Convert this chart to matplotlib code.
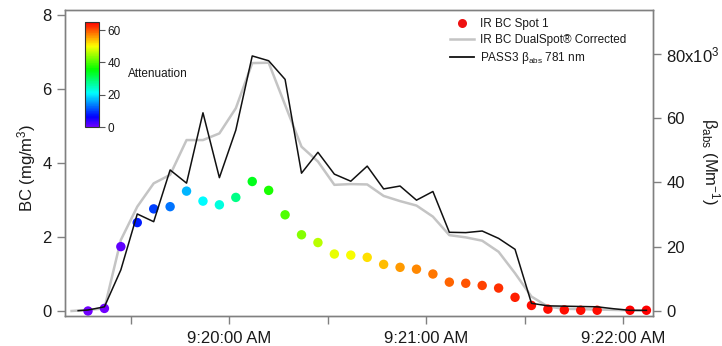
import numpy as np
import pandas as pd
import matplotlib
matplotlib.use("Agg")
import matplotlib.pyplot as plt
import matplotlib.dates as mdates
from matplotlib.colors import ListedColormap
from matplotlib.lines import Line2D
from matplotlib.ticker import FuncFormatter

plt.rcParams["font.family"] = ["Liberation Sans", "DejaVu Sans"]
plt.rcParams["mathtext.default"] = "regular"

# --- data ------------------------------------------------------------------
# 5-s samples starting 9:19:17
t_spot = pd.date_range("2020-01-01 09:19:17", periods=35, freq="5s")

spot1 = [0.00, 0.07, 1.74, 2.39, 2.76, 2.82, 3.24, 2.97, 2.87, 3.07,
         3.50, 3.26, 2.60, 2.06, 1.85, 1.54, 1.51, 1.45, 1.26, 1.18,
         1.13, 1.00, 0.78, 0.75, 0.69, 0.62, 0.37, 0.15, 0.05, 0.03,
         0.02, 0.02, np.nan, 0.02, 0.02]
attenuation = [0, 0, 1, 8, 10, 13, 17, 21, 23, 28,
               34, 37, 40, 43, 46, 49, 50, 52, 54, 56,
               57, 58, 59, 60, 61, 62, 63, 64, 64, 64,
               64, 64, np.nan, 65, 65]

t_dual = [pd.Timestamp("2020-01-01 09:19:12")] + list(t_spot)
dualspot = [0.00, 0.03, 0.07, 1.92, 2.82, 3.45, 3.68, 4.62, 4.62, 4.80,
            5.48, 6.70, 6.71, 5.57, 4.44, 4.04, 3.41, 3.43, 3.42, 3.11,
            2.97, 2.85, 2.55, 2.05, 1.99, 1.90, 1.60, 1.02, 0.39, 0.12,
            0.06, 0.05, 0.04, 0.03, 0.02, 0.01]

t_pass3 = [pd.Timestamp("2020-01-01 09:19:14")] + list(t_spot)
pass3 = [100, 300, 1300, 12800, 30200, 27800, 43900, 39800, 61700, 41500,
         56300, 79400, 77900, 72100, 42900, 49400, 42600, 40400, 45100, 38000,
         38900, 34500, 37200, 24500, 24400, 24900, 22600, 19200, 2400, 1600,
         1500, 1400, 1300, 700, 200, 200]

x_range = [pd.Timestamp("2020-01-01 09:19:10"), pd.Timestamp("2020-01-01 09:22:09")]

# --- style ------------------------------------------------------------------
frame_col = "#808080"
text_col = "#1a1a1a"
cmap = ListedColormap(plt.get_cmap("hsv")(np.linspace(0.75, 0.0, 256)))

fig = plt.figure(figsize=(7.22, 3.46), dpi=100)
ax = fig.add_axes([65 / 722, 30 / 346, 588 / 722, 306 / 346])
ax2 = ax.twinx()

ax.plot(t_dual, dualspot, color="#c4c4c4", lw=1.8, zorder=2)
sc = ax.scatter(t_spot, spot1, c=attenuation, cmap=cmap, vmin=0, vmax=65,
                s=46, edgecolors="none", zorder=3)
ax2.plot(t_pass3, pass3, color="#111111", lw=1.1)

ax.set_xlim(x_range)
ax.set_ylim(-0.135, 8.135)
ax2.set_ylim(-1560, 93700)
ax.set_yticks([0, 2, 4, 6, 8])
ax2.set_yticks([0, 20000, 40000, 60000, 80000])


def right_fmt(v, pos):
    k = int(round(v / 1000))
    return f"{k}x10$^3$" if k == 80 else f"{k}"


ax2.yaxis.set_major_formatter(FuncFormatter(right_fmt))

ax.xaxis.set_major_locator(mdates.MinuteLocator())
ax.xaxis.set_minor_locator(mdates.SecondLocator(bysecond=[30]))
ax.xaxis.set_major_formatter(FuncFormatter(
    lambda v, pos: mdates.num2date(v).strftime("%I:%M:%S %p").lstrip("0")))

for a in (ax, ax2):
    for sp in a.spines.values():
        sp.set_color(frame_col)
        sp.set_linewidth(1.0)
    a.tick_params(which="both", direction="out", length=5.5, width=1.0,
                  color=frame_col, labelsize=12, labelcolor=text_col, pad=4)
ax.tick_params(axis="x", which="both", pad=5.5)

ax.set_ylabel("BC (mg/m$^3$)", fontsize=12, color=text_col, va="center", ha="center")
ax.yaxis.set_label_coords(-0.066, 0.484)
ax2.set_ylabel("β$_{abs}$ (Mm$^{-1}$)", fontsize=12, color=text_col,
               rotation=270, va="center", ha="center")
ax2.yaxis.set_label_coords(1.097, 0.505)

# legend
handles = [
    Line2D([], [], ls="none", marker="o", ms=6.5, mfc="#ee1111", mec="none"),
    Line2D([], [], color="#c4c4c4", lw=1.8),
    Line2D([], [], color="#111111", lw=1.3),
]
labels = ["IR BC Spot 1", "IR BC DualSpot® Corrected", "PASS3 β$_{abs}$ 781 nm"]
ax2.legend(handles, labels, loc="upper left", bbox_to_anchor=(0.655, 0.975),
           frameon=False, fontsize=8.5, handlelength=2.0, handletextpad=0.55,
           labelspacing=0.35, borderpad=0, borderaxespad=0, labelcolor=text_col)

# colour bar for attenuation
cax = fig.add_axes([85 / 722, (346 - 127) / 346, 14 / 722, 105 / 346])
cb = fig.colorbar(sc, cax=cax, ticks=[0, 20, 40, 60])
cb.outline.set_edgecolor("#333333")
cb.outline.set_linewidth(0.8)
cax.tick_params(length=4, width=0.8, color="#555555", labelsize=8.5,
                labelcolor=text_col, pad=2)
fig.text(128 / 722, 1 - 74 / 346, "Attenuation", fontsize=8.5, color=text_col,
         va="center", ha="left")

fig.savefig("out.png", dpi=100)
